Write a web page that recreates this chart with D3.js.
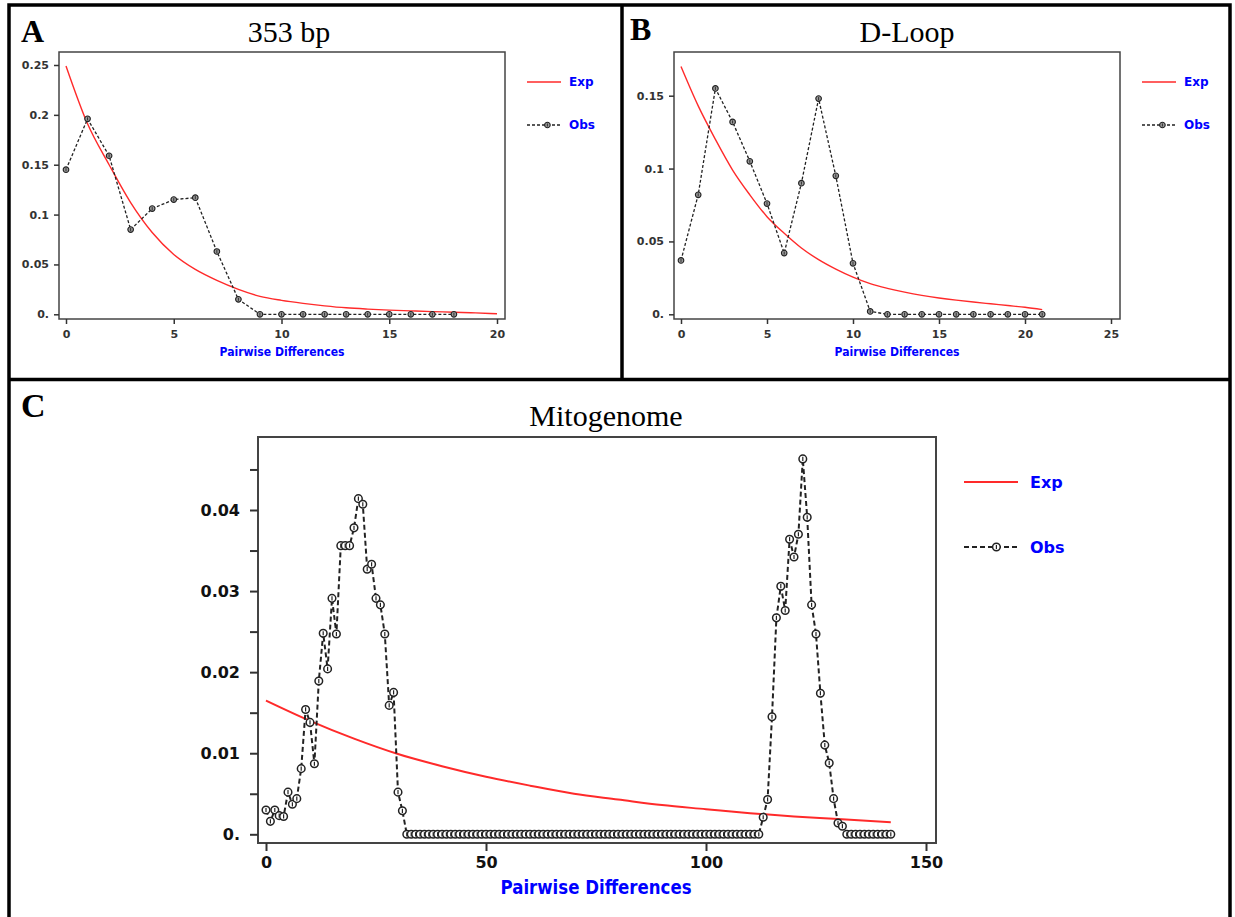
<!DOCTYPE html>
<html>
<head>
<meta charset="utf-8">
<script src="https://cdn.jsdelivr.net/npm/d3@7"></script>
<style>
  body { margin: 0; background: #fff; }
  svg { display: block; }
</style>
</head>
<body>
<div id="chart"></div>
<script>
// ---------------------------------------------------------------------------
// Data (mismatch distributions)

// A - 353 bp
const diffA = [0,1,2,3,4,5,6,7,8,9,10,11,12,13,14,15,16,17,18,19,20];
const expA = [0.249,0.191,0.150,0.112,0.082,0.060,0.045,0.034,0.025,0.018,0.014,
  0.011,0.0085,0.0065,0.0052,0.0042,0.0034,0.0027,0.0021,0.0014,0.0006];
const obsDiffA = [0,1,2,3,4,5,6,7,8,9,10,11,12,13,14,15,16,17,18];
const obsA = [0.145,0.196,0.159,0.085,0.106,0.115,0.117,0.063,0.015,0,0,0,0,0,0,0,0,0,0];
const xTicksA = [0,5,10,15,20];
const yTicksA = [0,0.05,0.1,0.15,0.2,0.25];

// B - D-Loop
const diffB = [0,1,2,3,4,5,6,7,8,9,10,11,12,13,14,15,16,17,18,19,20,21];
const expB = [0.170,0.143,0.120,0.099,0.082,0.067,0.0556,0.0455,0.0375,0.031,0.0255,
  0.021,0.0178,0.0152,0.013,0.0112,0.0097,0.0084,0.0072,0.006,0.0048,0.0032];
const obsB = [0.037,0.082,0.155,0.132,0.105,0.076,0.042,0.090,0.148,0.095,0.035,0.002,
  0,0,0,0,0,0,0,0,0,0];
const xTicksB = [0,5,10,15,20,25];
const yTicksB = [0,0.05,0.1,0.15];

// C - Mitogenome (obs index = pairwise differences 0..142)
const expDiffC = [0,10,20,30,40,50,60,70,80,90,100,110,120,130,142];
const expC = [0.0165,0.0140,0.0118,0.0099,0.0084,0.0071,0.0060,0.0050,0.0043,0.0036,
  0.0031,0.0026,0.0022,0.0019,0.0015];
const obsC = [
  0.0030,0.0016,0.0030,0.0023,0.0022,0.0052,0.0037,0.0044,0.0081,0.0154,
  0.0138,0.0087,0.0189,0.0248,0.0204,0.0291,0.0247,0.0356,0.0356,0.0356,
  0.0378,0.0414,0.0407,0.0327,0.0333,0.0291,0.0283,0.0247,0.0159,0.0175,
  0.0052,0.0029,
  0,0,0,0,0,0,0,0,0,0, 0,0,0,0,0,0,0,0,0,0, 0,0,0,0,0,0,0,0,0,0,
  0,0,0,0,0,0,0,0,0,0, 0,0,0,0,0,0,0,0,0,0, 0,0,0,0,0,0,0,0,0,0,
  0,0,0,0,0,0,0,0,0,0, 0,0,0,0,0,0,0,0,0,0, 0,
  0.0021,0.0043,0.0145,0.0267,0.0306,0.0276,0.0364,0.0342,0.0370,0.0463,
  0.0391,0.0283,0.0247,0.0174,0.0110,0.0088,0.0044,0.0014,0.0010,
  0,0,0,0,0,0,0,0,0,0,0
];
const xTicksC = [0,50,100,150];
const yTicksC = [0,0.005,0.01,0.015,0.02,0.025,0.03,0.035,0.04,0.045];
const yLabelsC = [0,0.01,0.02,0.03,0.04];

const seriesNames = ['Exp', 'Obs'];

// ---------------------------------------------------------------------------
// Layout

const W = 1235, H = 917;
const RED = '#ff2a2a', BLUE = '#0000ff';
const AXIS_FONT = '"DejaVu Sans", Verdana, sans-serif';
const SERIF = '"Liberation Serif", "Times New Roman", serif';

const svg = d3.select('#chart').append('svg')
  .attr('width', W)
  .attr('height', H);

svg.append('rect').attr('width', W).attr('height', H).attr('fill', '#fff');

function fmt(v) {
  return v === 0 ? '0.' : String(+v.toFixed(3));
}

function drawPanel(p) {
  const g = svg.append('g');
  const x = d3.scaleLinear().domain(p.xDomain).range(p.xRange);
  const y = d3.scaleLinear().domain(p.yDomain).range(p.yRange);
  const b = p.box;

  // frame
  g.append('rect')
    .attr('x', b.l).attr('y', b.t)
    .attr('width', b.r - b.l).attr('height', b.b - b.t)
    .attr('fill', 'none').attr('stroke', '#444').attr('stroke-width', p.frameW);

  // axes
  const xAxis = g.append('g')
    .attr('transform', `translate(0,${b.b})`)
    .call(d3.axisBottom(x).tickValues(p.xTicks).tickSize(p.tick).tickPadding(p.xPad));
  const yAxis = g.append('g')
    .attr('transform', `translate(${b.l},0)`)
    .call(d3.axisLeft(y).tickValues(p.yTicks).tickSize(p.tick).tickPadding(p.yPad)
      .tickFormat(d => p.yLabels.includes(d) ? fmt(d) : ''));
  [xAxis, yAxis].forEach(a => {
    a.select('.domain').remove();
    a.selectAll('line').attr('stroke', '#333').attr('stroke-width', p.frameW);
    a.selectAll('text')
      .attr('font-family', AXIS_FONT)
      .attr('font-weight', 'bold')
      .attr('font-size', p.tickFont)
      .attr('fill', p.tickColor);
  });

  // expected curve
  g.append('path')
    .datum(p.exp)
    .attr('fill', 'none')
    .attr('stroke', RED)
    .attr('stroke-width', p.expW)
    .attr('d', d3.line().curve(d3.curveMonotoneX)
      .x((d, i) => x(p.expX[i])).y(d => y(d)));

  // observed
  g.append('path')
    .datum(p.obs)
    .attr('fill', 'none')
    .attr('stroke', '#222')
    .attr('stroke-width', p.obsW)
    .attr('stroke-dasharray', p.dash)
    .attr('d', d3.line().x((d, i) => x(p.obsX ? p.obsX[i] : i)).y(d => y(d)));

  const pts = g.selectAll('.obs-pt')
    .data(p.obs)
    .enter().append('g')
    .attr('class', 'obs-pt')
    .attr('transform', (d, i) => `translate(${x(p.obsX ? p.obsX[i] : i)},${y(d)})`);
  drawMarker(pts, p);

  // titles
  svg.append('text')
    .attr('x', p.letter[0]).attr('y', p.letter[1])
    .attr('font-family', SERIF).attr('font-weight', 'bold')
    .attr('font-size', p.letterFont)
    .text(p.letterText);
  svg.append('text')
    .attr('x', p.title[0]).attr('y', p.title[1])
    .attr('text-anchor', 'middle')
    .attr('font-family', SERIF).attr('font-size', p.titleFont)
    .text(p.titleText);
  svg.append('text')
    .attr('x', p.xLabel[0]).attr('y', p.xLabel[1])
    .attr('text-anchor', 'middle')
    .attr('font-family', AXIS_FONT).attr('font-weight', 'bold')
    .attr('font-size', p.xLabelFont)
    .attr('textLength', p.xLabelLen).attr('lengthAdjust', 'spacingAndGlyphs')
    .attr('fill', BLUE)
    .text('Pairwise Differences');

  // legend
  const lg = svg.append('g').attr('transform', `translate(${p.legend[0]},${p.legend[1]})`);
  seriesNames.forEach((name, i) => {
    const row = lg.append('g').attr('transform', `translate(0,${i * p.legendGap})`);
    if (name === 'Exp') {
      row.append('line').attr('x1', 0).attr('x2', p.legendLen)
        .attr('stroke', RED).attr('stroke-width', p.expW);
    } else {
      row.append('line').attr('x1', 0).attr('x2', p.legendLen)
        .attr('stroke', '#222').attr('stroke-width', p.obsW)
        .attr('stroke-dasharray', p.dash);
      drawMarker(row.append('g').attr('transform', `translate(${p.legendLen * 0.6},0)`), p);
    }
    row.append('text')
      .attr('x', p.legendText).attr('dy', '0.36em')
      .attr('font-family', AXIS_FONT).attr('font-weight', 'bold')
      .attr('font-size', p.legendFont)
      .attr('fill', BLUE)
      .text(name);
  });
}

function drawMarker(sel, p) {
  sel.append('circle')
    .attr('r', p.markR)
    .attr('fill', p.markFill)
    .attr('stroke', '#222')
    .attr('stroke-width', p.markW);
  sel.append('line')
    .attr('y1', -p.markR * 0.55).attr('y2', p.markR * 0.55)
    .attr('stroke', '#222').attr('stroke-width', p.markW * 0.8);
}

const smallPanel = {
  frameW: 1.5, tick: 5, xPad: 6, yPad: 5, tickFont: 11, tickColor: '#333',
  expW: 1.4, obsW: 1.3, dash: '3,2', markR: 2.8, markW: 1.1, markFill: '#999',
  letterFont: 32, titleFont: 30, xLabelFont: 12, xLabelLen: 125,
  legendLen: 34, legendText: 42, legendGap: 43, legendFont: 12
};

drawPanel(Object.assign({}, smallPanel, {
  box: { l: 59, t: 52, r: 505, b: 319 },
  xDomain: [0, 20], xRange: [66, 497],
  yDomain: [0, 0.25], yRange: [314.3, 65],
  xTicks: xTicksA, yTicks: yTicksA, yLabels: yTicksA,
  exp: expA, expX: diffA, obs: obsA, obsX: obsDiffA,
  letter: [21, 42], letterText: 'A',
  title: [289, 42], titleText: '353 bp',
  xLabel: [282, 356], legend: [527, 82]
}));

drawPanel(Object.assign({}, smallPanel, {
  box: { l: 674, t: 52, r: 1120, b: 319 },
  xDomain: [0, 25], xRange: [681, 1111],
  yDomain: [0, 0.15], yRange: [314.3, 95.7],
  xTicks: xTicksB, yTicks: yTicksB, yLabels: yTicksB,
  exp: expB, expX: diffB, obs: obsB, obsX: diffB,
  letter: [630, 40], letterText: 'B',
  title: [907, 42], titleText: 'D-Loop',
  xLabel: [897, 356], legend: [1142, 82]
}));

drawPanel({
  frameW: 2, tick: 8, xPad: 6, yPad: 10, tickFont: 16, tickColor: '#111',
  expW: 2, obsW: 2, dash: '5,3', markR: 3.8, markW: 1.5, markFill: '#fff',
  letterFont: 34, titleFont: 30, xLabelFont: 19, xLabelLen: 191,
  legendLen: 54, legendText: 66, legendGap: 65, legendFont: 16,
  box: { l: 258, t: 437, r: 936, b: 843 },
  xDomain: [0, 150], xRange: [266, 926],
  yDomain: [0, 0.04], yRange: [834.3, 510],
  xTicks: xTicksC, yTicks: yTicksC, yLabels: yLabelsC,
  exp: expC, expX: expDiffC, obs: obsC, obsX: null,
  letter: [21, 417], letterText: 'C',
  title: [606, 426], titleText: 'Mitogenome',
  xLabel: [596, 894], legend: [964, 482]
});

// panel borders
svg.append('rect')
  .attr('x', 9).attr('y', 5).attr('width', 1221).attr('height', 940)
  .attr('fill', 'none').attr('stroke', '#000').attr('stroke-width', 3.5);
svg.append('line')
  .attr('x1', 622).attr('x2', 622).attr('y1', 5).attr('y2', 379.5)
  .attr('stroke', '#000').attr('stroke-width', 3.5);
svg.append('line')
  .attr('x1', 9).attr('x2', 1230).attr('y1', 379.5).attr('y2', 379.5)
  .attr('stroke', '#000').attr('stroke-width', 3.5);
</script>
</body>
</html>
